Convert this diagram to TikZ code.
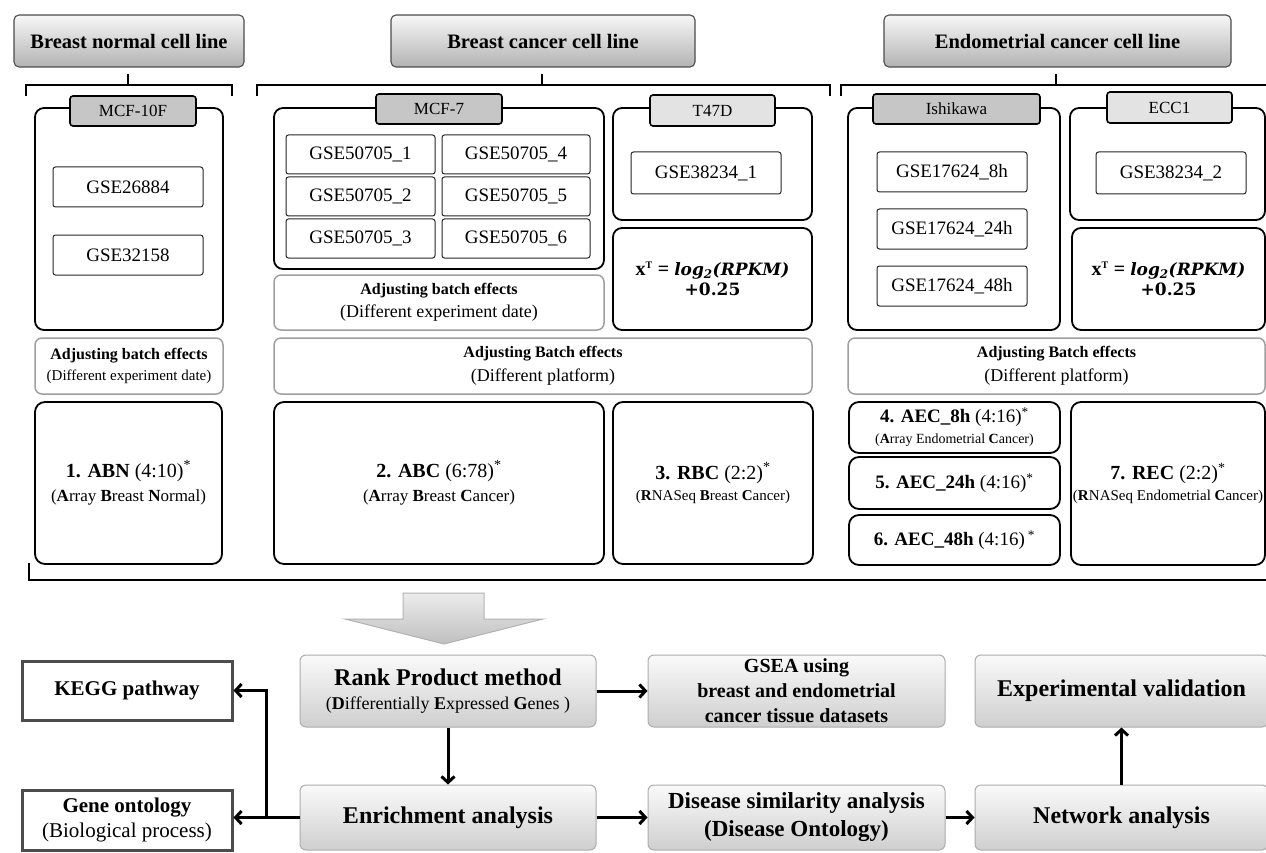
\documentclass[tikz,border=0pt]{standalone}
\usepackage{fontspec}
\setmainfont{Liberation Serif}
\newfontfamily\frmfont{DejaVu Serif}
\usetikzlibrary{arrows.meta,calc}
\newcommand\fs[2]{\fontsize{#1}{#2}\selectfont}
\newcommand\frmA{{\fs{20}{20}\bfseries x\textsuperscript{\fs{10}{20}T} = }{\fs{17}{20}\frmfont\bfseries\itshape log\textsubscript{2}(RPKM)}}
\newcommand\frmB{{\fs{17}{20}\frmfont\bfseries +0.25}}
\begin{document}
\begin{tikzpicture}[x=1pt,y=-1pt,
  every node/.style={inner sep=0pt, align=center},
  hdr/.style={draw=black!70, line width=1.1pt, rounded corners=5pt, top color=gray!6, bottom color=gray!60, font=\fs{20.5}{24}\bfseries},
  tabd/.style={draw=black, line width=1.6pt, rounded corners=3pt, fill=gray!45, font=\fs{17}{20}},
  tabl/.style={draw=black, line width=1.6pt, rounded corners=3pt, fill=gray!22, font=\fs{17}{20}},
  outer/.style={draw=black, line width=1.8pt, rounded corners=9pt},
  gse/.style={draw=black!85, line width=1pt, rounded corners=2.5pt, fill=white, font=\fs{19}{22}},
  adj/.style={draw=gray!75, line width=1.5pt, rounded corners=7pt},
  res/.style={draw=black, line width=1.8pt, rounded corners=10pt},
  flow/.style={draw=gray!65, line width=1pt, rounded corners=6pt, top color=gray!4, bottom color=gray!38},
  side/.style={draw=gray!60!black, line width=3pt, fill=white},
  brace/.style={draw=black, line width=2pt},
  formula/.style={draw=black, line width=1.8pt, rounded corners=9pt, font=\fs{17}{20}},
  arr/.style={draw=black, line width=3pt, -{Straight Barb[length=6pt,width=13pt]}}
]
\useasboundingbox (0,0) rectangle (1266,853);
\fill[white] (0,0) rectangle (1266,853);

% headers
\node[hdr, minimum width=230, minimum height=52] (h1) at (129,41) {Breast normal cell line};
\node[hdr, minimum width=304, minimum height=52] (h2) at (543,41) {Breast cancer cell line};
\node[hdr, minimum width=347, minimum height=52] (h3) at (1057.5,41) {Endometrial cancer cell line};

% braces
\draw[brace] (26,96) -- (26,85) -- (232,85) -- (232,96);
\draw[brace] (128,85) -- (128,74);
\draw[brace] (257,96) -- (257,85) -- (830,85) -- (830,96);
\draw[brace] (542,85) -- (542,74);
\draw[brace] (841,96) -- (841,85) -- (1270,85);
\draw[brace] (1056,85) -- (1056,74);

% breast normal
\node[outer, minimum width=188, minimum height=222] (b10f) at (129,219) {};
\node[tabd, minimum width=126, minimum height=30] (t10f) at (133,111) {MCF-10F};
\node[gse, minimum width=150, minimum height=40] (g1) at (128,187) {GSE26884};
\node[gse, minimum width=150, minimum height=40] (g2) at (128,255) {GSE32158};
\node[adj, minimum width=188, minimum height=56, font=\fs{16}{21}] (adj1) at (129,366) {{\bfseries Adjusting batch effects}\\ {\fs{15}{21}(Different experiment date)}};
\node[res, minimum width=187, minimum height=162, font=\fs{20}{24}] (abn) at (128.5,483) {\textbf{1. ABN} (4:10)\textsuperscript{*}\\ {\fs{17}{24}(\textbf{A}rray \textbf{B}reast \textbf{N}ormal)}};

% MCF-7
\node[outer, minimum width=330, minimum height=161] (b7) at (439,188.5) {};
\node[tabd, minimum width=126, minimum height=30] (t7) at (439,109) {MCF-7};
\node[gse, minimum width=149, minimum height=39] (s1) at (360.5,154.5) {GSE50705\_1};
\node[gse, minimum width=149, minimum height=39] (s2) at (360.5,196.5) {GSE50705\_2};
\node[gse, minimum width=149, minimum height=39] (s3) at (360.5,238.5) {GSE50705\_3};
\node[gse, minimum width=148, minimum height=39] (s4) at (516,154.5) {GSE50705\_4};
\node[gse, minimum width=148, minimum height=39] (s5) at (516,196.5) {GSE50705\_5};
\node[gse, minimum width=148, minimum height=39] (s6) at (516,238.5) {GSE50705\_6};
\node[adj, minimum width=330, minimum height=55, font=\fs{16}{23}] (adj2) at (439,302.5) {{\bfseries Adjusting batch effects}\\ {\fs{18}{23}(Different experiment date)}};

% T47D
\node[outer, minimum width=199, minimum height=112] (bt) at (712.5,164) {};
\node[tabl, minimum width=125, minimum height=31] (tt) at (712.5,110.5) {T47D};
\node[gse, minimum width=150, minimum height=42] (gt) at (706,173) {GSE38234\_1};
\node[formula, minimum width=199, minimum height=102] (f1) at (712.5,279) {\frmA\\ \frmB};

\node[adj, minimum width=538, minimum height=56, font=\fs{16}{24}] (adjb) at (543,366) {{\bfseries Adjusting Batch effects}\\ {\fs{18}{24}(Different platform)}};
\node[res, minimum width=330, minimum height=162, font=\fs{20}{24}] (abc) at (439,483) {\textbf{2. ABC} (6:78)\textsuperscript{*}\\ {\fs{17}{24}(\textbf{A}rray \textbf{B}reast \textbf{C}ancer)}};
\node[res, minimum width=200, minimum height=162, font=\fs{20}{21}] (rbc) at (713,483) {\textbf{3. RBC} (2:2)\textsuperscript{*}\\ {\fs{15}{21}(\textbf{R}NASeq \textbf{B}reast \textbf{C}ancer)}};

% Ishikawa
\node[outer, minimum width=212, minimum height=222] (bi) at (954,219) {};
\node[tabd, minimum width=167, minimum height=30] (ti) at (956.5,109) {Ishikawa};
\node[gse, minimum width=150, minimum height=40] (e1) at (952,172) {GSE17624\_8h};
\node[gse, minimum width=150, minimum height=40] (e2) at (952,229) {GSE17624\_24h};
\node[gse, minimum width=150, minimum height=40] (e3) at (952,286) {GSE17624\_48h};

% ECC1
\node[outer, minimum width=195, minimum height=112] (be) at (1167.5,164) {};
\node[tabl, minimum width=125, minimum height=31] (te) at (1169.5,107.5) {ECC1};
\node[gse, minimum width=150, minimum height=42] (ge) at (1171,173) {GSE38234\_2};
\node[formula, minimum width=193, minimum height=102] (f2) at (1168.5,279) {\frmA\\ \frmB};

\node[adj, minimum width=417, minimum height=56, font=\fs{16}{24}] (adje) at (1056.5,366) {{\bfseries Adjusting Batch effects}\\ {\fs{18}{24}(Different platform)}};
\node[res, minimum width=211, minimum height=51, font=\fs{19}{21}] (a8) at (954.5,427.5) {\textbf{4. AEC\_8h} (4:16)\textsuperscript{*}\\ {\fs{14}{21}(\textbf{A}rray Endometrial \textbf{C}ancer)}};
\node[res, minimum width=211, minimum height=52, font=\fs{19}{22}] (a24) at (954.5,483) {\textbf{5. AEC\_24h} (4:16)\textsuperscript{*}};
\node[res, minimum width=211, minimum height=50, font=\fs{19}{22}] (a48) at (954.5,540) {\textbf{6. AEC\_48h} (4:16)\,\textsuperscript{*}};
\node[res, minimum width=194, minimum height=163, font=\fs{20}{21}] (rec) at (1168,483.5) {\textbf{7. REC} (2:2)\textsuperscript{*}\\ {\fs{15}{21}(\textbf{R}NASeq Endometrial \textbf{C}ancer)}};

% bottom bracket
\draw[draw=black, line width=2.5pt] (29,563) -- (29,580) -- (1270,580);

% big arrow
\draw[draw=gray!60, line width=1pt, top color=gray!15, bottom color=gray!50]
  (403,593) -- (484,593) -- (484,619) -- (543,619) -- (444,644) -- (345,619) -- (403,619) -- cycle;

% lower flow
\node[side, minimum width=210, minimum height=59, font=\fs{21}{24}\bfseries] (kegg) at (127,690.5) {KEGG pathway};
\node[side, minimum width=210, minimum height=60, font=\fs{21}{25}] (go) at (127,820) {\textbf{Gene ontology}\\ (Biological process)};
\node[flow, minimum width=296, minimum height=72, font=\fs{24}{24}] (rank) at (448,691) {\textbf{Rank Product method}\\ {\fs{18}{24}(\textbf{D}ifferentially \textbf{E}xpressed \textbf{G}enes )}};
\node[flow, minimum width=297, minimum height=72, font=\fs{20}{25}\bfseries] (gsea) at (796.5,691) {GSEA using\\ breast and endometrial\\ cancer tissue datasets};
\node[flow, minimum width=293, minimum height=72, font=\fs{24}{28}\bfseries] (exp) at (1121.5,691) {Experimental validation};
\node[flow, minimum width=296, minimum height=65, font=\fs{24}{28}\bfseries] (enrich) at (448,817.5) {Enrichment analysis};
\node[flow, minimum width=297, minimum height=65, font=\fs{23}{28}\bfseries] (dis) at (796.5,817.5) {Disease similarity analysis\\ (Disease Ontology)};
\node[flow, minimum width=293, minimum height=65, font=\fs{24}{28}\bfseries] (net) at (1121.5,817.5) {Network analysis};

% connectors
\coordinate (br) at ($(enrich.west)!0.5!(go.east)$);
\draw[arr] (enrich.west) -- (go.east |- enrich.west);
\draw[arr] (br) |- (kegg.east);
\draw[arr] (rank.south) -- (enrich.north);
\draw[arr] (rank.east) -- (gsea.west);
\draw[arr] (enrich.east) -- (dis.west);
\draw[arr] (dis.east) -- (net.west);
\draw[arr] (net.north) -- (exp.south);
\end{tikzpicture}
\end{document}
